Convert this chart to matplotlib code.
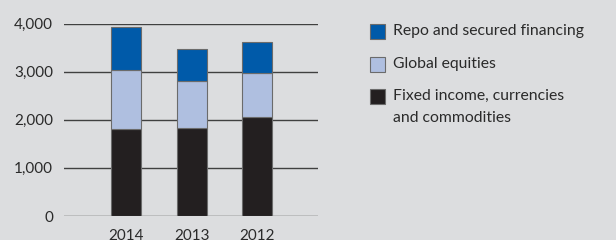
import matplotlib
matplotlib.use("Agg")
import matplotlib.pyplot as plt
from matplotlib.patches import Rectangle
import numpy as np

years = ["2014", "2013", "2012"]
fixed_income = [1800, 1835, 2050]
global_equities = [1230, 975, 915]
repo = [890, 670, 655]
yticks = [0, 1000, 2000, 3000, 4000]
ytick_labels = ["0", "1,000", "2,000", "3,000", "4,000"]
series_names = ["Repo and secured financing", "Global equities",
                "Fixed income, currencies\nand commodities"]

bg = "#dcdddf"
c_repo = "#005aa9"
c_eq = "#afbfe0"
c_fi = "#231f20"
edge = "#6b6b6b"
txt = "#2a2a2a"

plt.rcParams['font.family'] = ['Lato', 'DejaVu Sans']

W, H = 616, 240
fig = plt.figure(figsize=(W/100, H/100), dpi=100, facecolor=bg)
ax = fig.add_axes([64/W, 1-216/H, (318-64)/W, (216-23.5)/H])
ax.set_facecolor(bg)

x = np.arange(len(years))
w = 0.458
fi = np.array(fixed_income)
eq = np.array(global_equities)
rp = np.array(repo)
ax.bar(x, fi, w, color=c_fi, edgecolor=edge, linewidth=0.8, zorder=3)
ax.bar(x, eq, w, bottom=fi, color=c_eq, edgecolor=edge, linewidth=0.8, zorder=3)
ax.bar(x, rp, w, bottom=fi+eq, color=c_repo, edgecolor=edge, linewidth=0.8, zorder=3)

ax.set_xlim(-0.947, 2.93)
ax.set_ylim(0, 4000)
ax.set_yticks(yticks)
ax.set_yticklabels(ytick_labels)
ax.set_xticks(x)
ax.set_xticklabels(years)
ax.grid(axis='y', color="#404040", linewidth=1.0, zorder=1)
for s in ax.spines.values():
    s.set_visible(False)
ax.tick_params(axis='both', length=0, labelsize=11, colors=txt)
ax.tick_params(axis='y', pad=8)
ax.tick_params(axis='x', pad=9)
ax.set_axisbelow(True)

# legend (manual layout, pixel positions from top)
colors = [c_repo, c_eq, c_fi]
rows = [31, 64, 96]
for col, name, yc in zip(colors, series_names, rows):
    fig.patches.append(Rectangle((370/W, 1-(yc+7.5)/H), 15/W, 15/H,
                                 transform=fig.transFigure, facecolor=col,
                                 edgecolor=edge, linewidth=0.8))
    lines = name.split("\n")
    for i, ln in enumerate(lines):
        fig.text(393/W, 1-(yc+i*22)/H, ln, fontsize=11.3, color=txt,
                 va='center', ha='left')

fig.savefig("out.png", dpi=100, facecolor=bg)
